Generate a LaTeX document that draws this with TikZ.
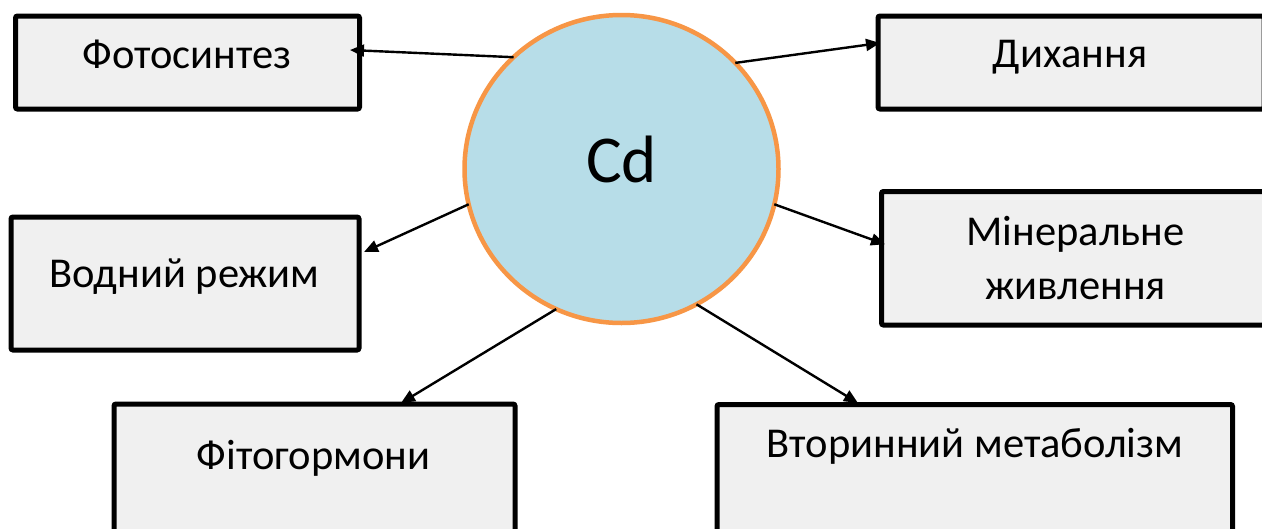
\documentclass[tikz,border=0pt]{standalone}
\usepackage{fontspec}
\setmainfont{Carlito}
\usetikzlibrary{arrows.meta,shapes.geometric}
\definecolor{boxfill}{HTML}{F0F0F0}
\definecolor{cdfill}{HTML}{B7DDE8}
\definecolor{cdline}{HTML}{F79646}
\begin{document}
\begin{tikzpicture}[x=1pt,y=-1pt,
  boxnode/.style={draw=black, fill=boxfill, line width=5pt, rounded corners=2pt,
    rectangle, inner sep=0pt, outer sep=0pt},
  lbl/.style={font=\fontsize{42.5}{54}\selectfont, inner sep=0pt, outer sep=0pt},
  conn/.style={draw=black, line width=2.4pt, -{Triangle[length=14pt,width=12pt]}},
  cdnode/.style={ellipse, draw=cdline, fill=cdfill, line width=4.5pt, inner sep=0pt, outer sep=0pt}
  ]
\clip (0,0) rectangle (1262,528);
\fill[white] (0,0) rectangle (1262,528);
% boxes
\node[boxnode, minimum width=344pt, minimum height=93pt] (b1) at (187.5,62.5) {};
\node[boxnode, minimum width=386pt, minimum height=93pt] (b2) at (1071,62.5) {};
\node[boxnode, minimum width=348pt, minimum height=133pt] (b3) at (185,283.5) {};
\node[boxnode, minimum width=386.5pt, minimum height=133.5pt] (b4) at (1074.75,258.25) {};
\node[boxnode, minimum width=401pt, minimum height=156pt] (b5) at (314.5,482) {};
\node[boxnode, minimum width=515.5pt, minimum height=155.5pt] (b6) at (974.75,482.25) {};
% texts
\node[lbl, anchor=base] (t1) at (187,68) {Фотосинтез};
\node[lbl, anchor=base] (t2) at (1070,67) {Дихання};
\node[lbl, anchor=base] (t3) at (184.5,287) {Водний режим};
\node[lbl, anchor=base, align=center] (t4) at (1075.5,299) {Мінеральне\\живлення};
\node[lbl, anchor=base] (t5) at (313.5,469) {Фітогормони};
\node[lbl, anchor=base] (t6) at (975,457) {Вторинний метаболізм};
% central circle
\node[cdnode, minimum width=314pt, minimum height=308pt] (cd) at (621.5,169) {};
\node[font=\fontsize{67}{80}\selectfont, anchor=base, inner sep=0pt] (cdt) at (621.5,182) {Cd};
% connectors
\draw[conn] (cd.134) -- ([shift={(-9.5,-12.5)}]b1.east);
\draw[conn] (cd.43) -- ([shift={(2,-19.5)}]b2.west);
\draw[conn] (cd.193) -- ([shift={(5,-31.5)}]b3.east);
\draw[conn] (cd.347) -- ([shift={(3.5,-14)}]b4.west);
\draw[conn] (cd.245) -- ([shift={(86.5,-1)}]b5.north);
\draw[conn] (cd.299) -- ([shift={(-116.75,-1.5)}]b6.north);
\end{tikzpicture}
\end{document}
